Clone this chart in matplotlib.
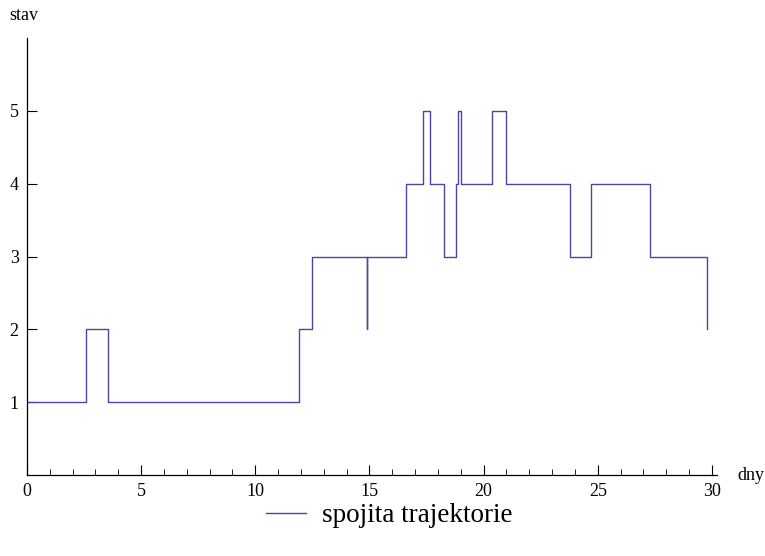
import matplotlib
matplotlib.use('Agg')
import matplotlib.pyplot as plt
from matplotlib.ticker import MultipleLocator

# jump times (days) and state entered at each time
times = [0, 2.59, 3.55, 11.93, 12.5, 14.87, 14.9, 16.58, 17.34, 17.63,
         18.26, 18.77, 18.86, 18.99, 20.37, 21.0, 23.79, 24.69, 27.29, 29.77]
states = [1, 2, 1, 2, 3, 2, 3, 4, 5, 4,
          3, 4, 5, 4, 5, 4, 3, 4, 3, 2]

x_ticks = [0, 5, 10, 15, 20, 25, 30]
y_ticks = [1, 2, 3, 4, 5]

plt.rcParams['font.family'] = ['Liberation Serif', 'DejaVu Serif']

fig = plt.figure(figsize=(7.65, 5.56), dpi=100)
ax = fig.add_axes([27 / 765, 81 / 556, 690 / 765, 437 / 556])

line, = ax.step(times, states, where='post', color='#4848a4', lw=1.0,
                label='spojita trajektorie')

ax.set_xlim(0, 30.22)
ax.set_ylim(0, 6.0)
ax.set_xticks(x_ticks)
ax.xaxis.set_minor_locator(MultipleLocator(1))
ax.set_yticks(y_ticks)

for s in ['top', 'right']:
    ax.spines[s].set_visible(False)
ax.spines['left'].set_linewidth(0.9)
ax.spines['bottom'].set_linewidth(0.9)

ax.tick_params(axis='x', which='major', direction='in', length=7, width=0.8,
               labelsize=13, pad=6)
ax.tick_params(axis='x', which='minor', direction='in', length=4, width=0.6)
ax.tick_params(axis='y', which='major', direction='in', length=7, width=0.8,
               labelsize=13, pad=6)

fig.text(9 / 765, 1 - 16 / 556, 'stav', fontsize=13, va='center', ha='left')
fig.text(737 / 765, 1 - 476 / 556, 'dny', fontsize=13, va='center', ha='left')

fig.legend(handles=[line], loc='center',
           bbox_to_anchor=(0.5 + 7 / 765, 1 - 516 / 556),
           frameon=False, fontsize=19.5, handlelength=1.45, handletextpad=0.6)

fig.savefig('out.png', dpi=100)
